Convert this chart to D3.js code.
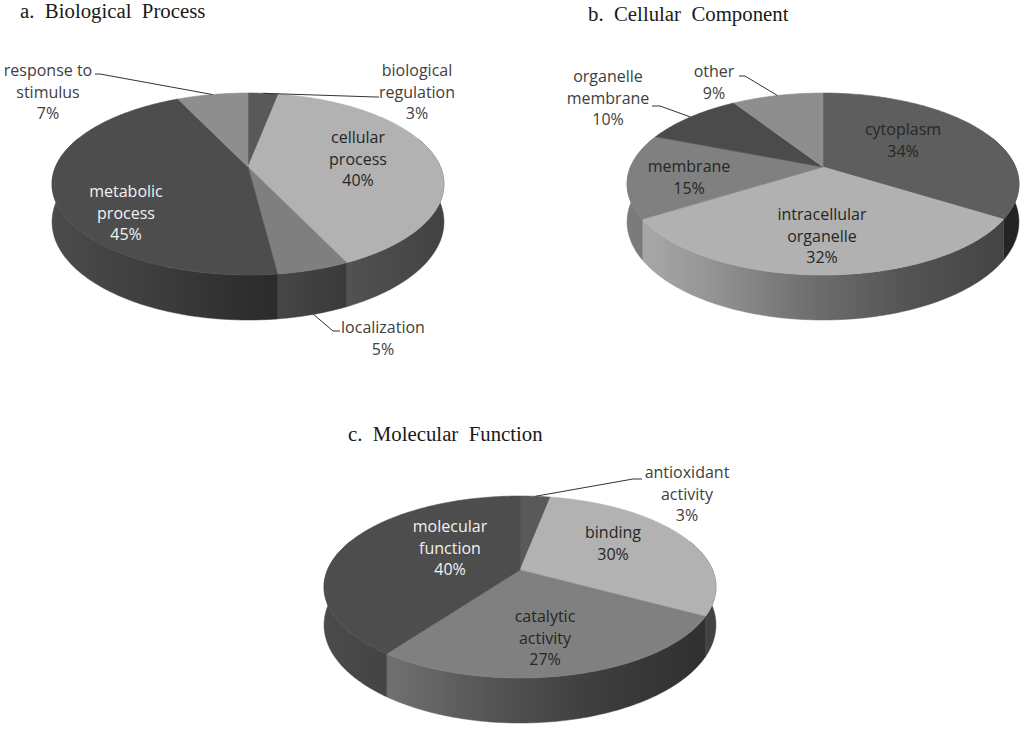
<!DOCTYPE html>
<html>
<head>
<meta charset="utf-8">
<script src="https://cdn.jsdelivr.net/npm/d3@7"></script>
<style>
body { margin: 0; background: #fff; }
</style>
</head>
<body>
<script>
// GO annotation summaries, values in percent
var bpCategories = ["biological regulation", "cellular process", "localization", "metabolic process", "response to stimulus"];
var bpValues = [3, 40, 5, 45, 7];

var ccCategories = ["cytoplasm", "intracellular organelle", "membrane", "organelle membrane", "other"];
var ccValues = [34, 32, 15, 10, 9];

var mfCategories = ["antioxidant activity", "binding", "catalytic activity", "molecular function"];
var mfValues = [3, 30, 27, 40];

var titles = ["a.  Biological  Process", "b.  Cellular  Component", "c.  Molecular  Function"];

// look of the 3d pies
var rx = 192.5, ry = 87.8, depth = 36.6, persp = 0.187, halfW = 196;
var fontLabel = "'Open Sans', sans-serif";
var fontTitle = "'Liberation Serif', 'Times New Roman', serif";

var pies = [
    {cx: 248, cy: 167, cats: bpCategories, vals: bpValues,
     colors: ["#595959", "#b2b2b2", "#7f7f7f", "#4d4d4d", "#8e8e8e"],
     title: {x: 20, y: 18},
     labels: [
        {dx: 169, dy: -91, fill: "#404040", leader: [[128, -70], [131, -70]]},
        {dx: 110, dy: -24, fill: "#262626"},
        {dx: 135, dy: 166, fill: "#404040", bottom: true, leader: [[85, 164], [92, 164]]},
        {dx: -122, dy: 30, fill: "#f2f2f2"},
        {dx: -200, dy: -91, fill: "#404040", leader: [[-148, -93], [-153, -93]]}
     ]},
    {cx: 823, cy: 167, cats: ccCategories, vals: ccValues,
     colors: ["#5e5e5e", "#b1b1b1", "#808080", "#4b4b4b", "#8e8e8e"],
     title: {x: 588, y: 21},
     labels: [
        {dx: 80, dy: -32, fill: "#262626"},
        {dx: -1, dy: 53, fill: "#262626"},
        {dx: -134, dy: 5, fill: "#262626"},
        {dx: -215, dy: -85, fill: "#404040", leader: [[-163, -61], [-171, -61]]},
        {dx: -109, dy: -90, fill: "#404040", leader: [[-78, -91], [-84, -91]]}
     ]},
    {cx: 520, cy: 570, cats: mfCategories, vals: mfValues,
     colors: ["#595959", "#b2b2b2", "#808080", "#4d4d4d"],
     title: {x: 348, y: 441},
     labels: [
        {dx: 167, dy: -92, fill: "#404040", leader: [[113, -91], [122, -91]]},
        {dx: 93, dy: -32, fill: "#262626"},
        {dx: 25, dy: 52, fill: "#262626"},
        {dx: -70, dy: -38, fill: "#f2f2f2"}
     ]}
];

var svg = d3.select("body").append("svg")
    .attr("width", 1024)
    .attr("height", 731);
var defs = svg.append("defs");

// point on the pie: angle clockwise from top, r 0..1, h 0 top face .. 1 bottom of wall
var project = function(p, a, r, h) {
    var u = r * Math.sin(a), v = -r * Math.cos(a);
    var d = 1 - persp * v;
    return [p.cx + rx * u / d, p.cy + (ry * v + depth * h) / d];
};

// wall brightness across the pie, left to right
var lightStops = [0, 0.2, 0.45, 0.7, 1];
var lightLevels = [0.97, 0.85, 0.64, 0.48, 0.37];

var shade = function(col, f) {
    var c = d3.rgb(col);
    return d3.rgb(c.r * f, c.g * f, c.b * f).formatHex();
};

var wrap = function(name) {
    var w = name.split(" ");
    if (w.length == 1) return [name];
    if (w.length == 3) return [w[0] + " " + w[1], w[2]];
    return w;
};

var line = d3.line();
var step = Math.PI / 180;
var frontMin = Math.PI / 2 - 0.35, frontMax = 3 * Math.PI / 2 + 0.35;

pies.forEach(function(p, pi) {
    var arcs = d3.pie().sort(null)(p.vals);
    var g = svg.append("g");

    arcs.forEach(function(a) {
        var grad = defs.append("linearGradient")
            .attr("id", "wall" + pi + "_" + a.index)
            .attr("gradientUnits", "userSpaceOnUse")
            .attr("x1", p.cx - halfW).attr("x2", p.cx + halfW)
            .attr("y1", 0).attr("y2", 0);
        lightStops.forEach(function(s, i) {
            grad.append("stop")
                .attr("offset", s)
                .attr("stop-color", shade(p.colors[a.index], lightLevels[i]));
        });
    });

    // walls, only the front part is ever seen
    var walls = arcs.map(function(a) {
        var a0 = Math.max(a.startAngle, frontMin), a1 = Math.min(a.endAngle, frontMax);
        return {a: a, a0: a0, a1: a1};
    }).filter(function(w) { return w.a1 > w.a0; });

    g.selectAll(".wall")
        .data(walls).enter()
        .append("path")
        .attr("class", "wall")
        .attr("d", function(w) {
            var n = Math.max(2, Math.ceil((w.a1 - w.a0) / step));
            var topPts = [], botPts = [];
            for (var i = 0; i <= n; i++) {
                var ang = w.a0 + (w.a1 - w.a0) * i / n;
                topPts.push(project(p, ang, 1, 0));
                botPts.unshift(project(p, ang, 1, 1));
            }
            return line(topPts.concat(botPts)) + "Z";
        })
        .attr("fill", function(w) { return "url(#wall" + pi + "_" + w.a.index + ")"; })
        .attr("stroke", function(w) { return "url(#wall" + pi + "_" + w.a.index + ")"; })
        .attr("stroke-width", 0.5);

    // top face
    g.selectAll(".top")
        .data(arcs).enter()
        .append("path")
        .attr("class", "top")
        .attr("d", function(d) {
            var pts = [project(p, 0, 0, 0)];
            var n = Math.max(2, Math.ceil((d.endAngle - d.startAngle) / step));
            for (var i = 0; i <= n; i++) {
                pts.push(project(p, d.startAngle + (d.endAngle - d.startAngle) * i / n, 1, 0));
            }
            return line(pts) + "Z";
        })
        .attr("fill", function(d) { return p.colors[d.index]; })
        .attr("stroke", function(d) { return p.colors[d.index]; })
        .attr("stroke-width", 0.6);

    // leader lines
    g.selectAll(".leader")
        .data(arcs.filter(function(d) { return p.labels[d.index].leader; })).enter()
        .append("path")
        .attr("class", "leader")
        .attr("fill", "none")
        .attr("stroke", "#333")
        .attr("stroke-width", 1)
        .attr("d", function(d) {
            var lab = p.labels[d.index];
            var start = project(p, (d.startAngle + d.endAngle) / 2, 1, lab.bottom ? 1 : 0);
            var pts = [start].concat(lab.leader.map(function(q) { return [p.cx + q[0], p.cy + q[1]]; }));
            return line(pts);
        });

    // data labels
    var labels = g.selectAll(".label")
        .data(arcs).enter()
        .append("text")
        .attr("class", "label")
        .attr("font-family", fontLabel)
        .attr("font-size", 16)
        .attr("text-anchor", "middle")
        .attr("fill", function(d) { return p.labels[d.index].fill; });

    labels.selectAll("tspan")
        .data(function(d) { return wrap(p.cats[d.index]).concat([d.value + "%"]).map(function(s) { return {s: s, d: d}; }); })
        .enter()
        .append("tspan")
        .attr("x", function(t) { return p.cx + p.labels[t.d.index].dx; })
        .attr("y", function(t, i) { return p.cy + p.labels[t.d.index].dy + i * 21.5; })
        .text(function(t) { return t.s; });

    svg.append("text")
        .attr("x", p.title.x)
        .attr("y", p.title.y)
        .attr("font-family", fontTitle)
        .attr("font-size", 20.8)
        .attr("fill", "#1a1a1a")
        .style("white-space", "pre")
        .text(titles[pi]);
});
</script>
</body>
</html>
